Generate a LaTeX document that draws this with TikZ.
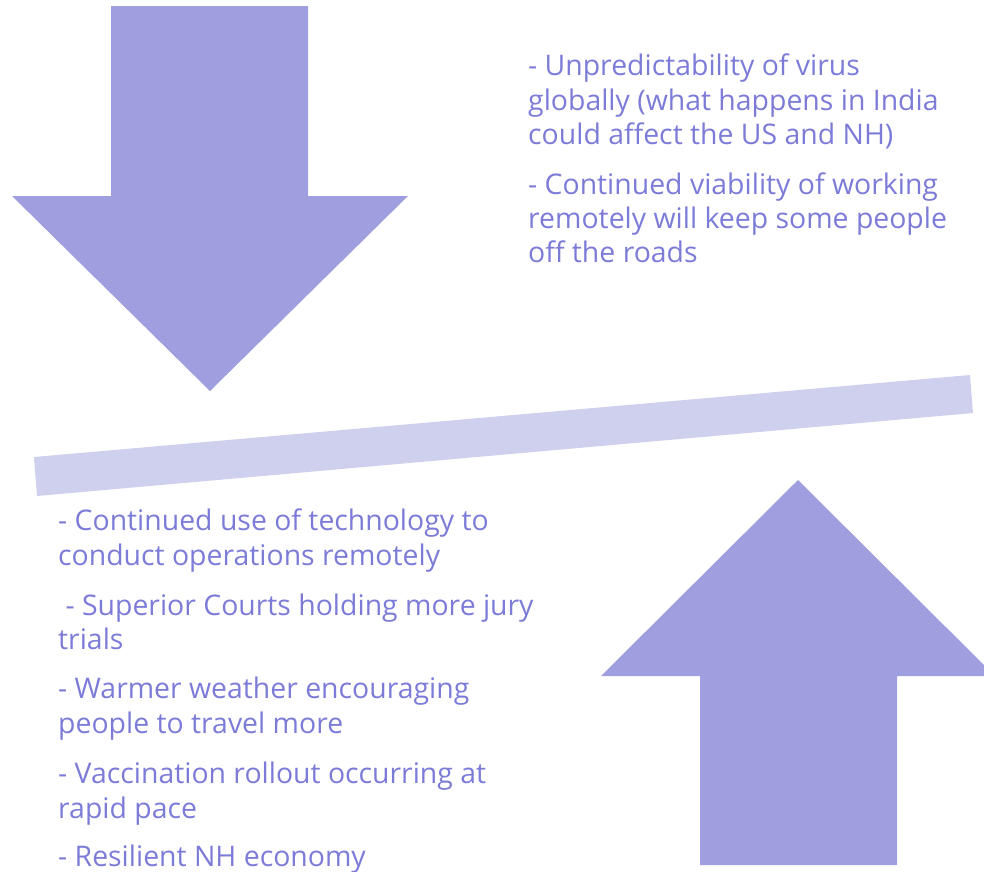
\documentclass[tikz,border=0pt]{standalone}
\usepackage{fontspec}
\setmainfont{Open Sans}
\definecolor{arrowfill}{RGB}{159,158,222}
\definecolor{barfill}{RGB}{207,207,238}
\definecolor{txt}{RGB}{124,124,216}
\begin{document}
\begin{tikzpicture}[x=1pt,y=-1pt,
  ln/.style={anchor=base west,inner sep=0pt,text=txt,font=\fontsize{28.4}{35}\selectfont},
  arrowshape/.style={fill=arrowfill,draw=none},
  barshape/.style={fill=barfill,draw=none}]
\useasboundingbox (0,0) rectangle (984,871);
% down arrow
\fill[arrowshape] (111,6) -- (308,6) -- (308,196) -- (408,196) -- (210,391) -- (12,196) -- (111,196) -- cycle;
% up arrow
\fill[arrowshape] (700,865) -- (897,865) -- (897,676) -- (995,676) -- (798,480) -- (601,676) -- (700,676) -- cycle;
% bar
\fill[barshape] (34,457) -- (970,375) -- (973,413) -- (37,496) -- cycle;
% top text
\node[ln] (a1) at (528,75) {- Unpredictability of virus};
\node[ln] (a2) at (528,110) {globally (what happens in India};
\node[ln] (a3) at (528,144) {could affect the US and NH)};
\node[ln] (a4) at (528,194) {- Continued viability of working};
\node[ln] (a5) at (528,228) {remotely will keep some people};
\node[ln] (a6) at (528,262) {off the roads};
% bottom text
\node[ln] (b1) at (58,530) {- Continued use of technology to};
\node[ln] (b2) at (58,565) {conduct operations remotely};
\node[ln] (b3) at (58,615) {\ - Superior Courts holding more jury};
\node[ln] (b4) at (58,649) {trials};
\node[ln] (b5) at (58,698) {- Warmer weather encouraging};
\node[ln] (b6) at (58,733) {people to travel more};
\node[ln] (b7) at (58,783) {- Vaccination rollout occurring at};
\node[ln] (b8) at (58,818) {rapid pace};
\node[ln] (b9) at (58,866) {- Resilient NH economy};
\end{tikzpicture}
\end{document}
